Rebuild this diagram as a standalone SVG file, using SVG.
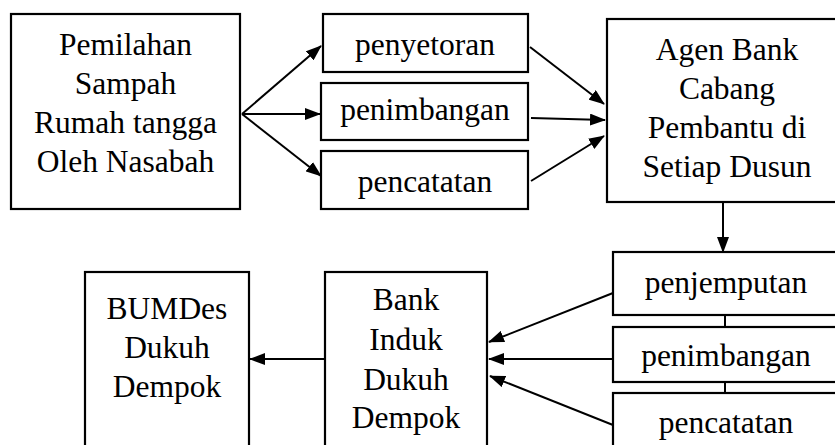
<svg xmlns="http://www.w3.org/2000/svg" width="835" height="445" viewBox="0 0 835 445">
<style>
.box{fill:#fff;stroke:#000;stroke-width:2.2}
.t{font-family:"Liberation Serif","Times New Roman",serif;font-size:31.5px;fill:#000;text-anchor:middle}
.c{stroke:#000;stroke-width:2;fill:none}
.a{marker-end:url(#ah)}
</style>
<defs>
<marker id="ah" markerUnits="userSpaceOnUse" markerWidth="16" markerHeight="12" viewBox="0 0 16 12" refX="15" refY="6" orient="auto">
<path d="M0,0 L16,6 L0,12 z" fill="#000"/>
</marker>
</defs>
<rect width="835" height="445" fill="#fff"/>
<g id="connectors">
<line class="c" x1="725" y1="312" x2="725" y2="396"/>
<line class="c a" x1="242" y1="114" x2="321" y2="46"/>
<line class="c a" x1="242" y1="114" x2="320" y2="114"/>
<line class="c a" x1="242" y1="114" x2="321" y2="176"/>
<line class="c a" x1="530" y1="47" x2="604" y2="104"/>
<line class="c a" x1="531" y1="118" x2="605" y2="120"/>
<line class="c a" x1="531" y1="181" x2="604" y2="136"/>
<line class="c a" x1="723" y1="202" x2="723" y2="252"/>
<line class="c a" x1="613" y1="293" x2="489" y2="342"/>
<line class="c a" x1="613" y1="359" x2="489" y2="359"/>
<line class="c a" x1="613" y1="425" x2="490" y2="376"/>
<line class="c a" x1="325" y1="359" x2="250" y2="359"/>
</g>
<g id="pemilahan">
<rect class="box" x="11" y="14" width="229" height="195"/>
<text class="t" x="125.5" y="55">Pemilahan</text>
<text class="t" x="125.5" y="94">Sampah</text>
<text class="t" x="125.5" y="133">Rumah tangga</text>
<text class="t" x="125.5" y="172">Oleh Nasabah</text>
</g>
<g id="penyetoran">
<rect class="box" x="323" y="14" width="205" height="58"/>
<text class="t" x="425" y="55">penyetoran</text>
</g>
<g id="penimbangan1">
<rect class="box" x="321" y="83" width="207" height="57"/>
<text class="t" x="425" y="120">penimbangan</text>
</g>
<g id="pencatatan1">
<rect class="box" x="321" y="151" width="207" height="58"/>
<text class="t" x="425" y="192">pencatatan</text>
</g>
<g id="agen">
<rect class="box" x="607" y="19" width="240" height="183"/>
<text class="t" x="727" y="60">Agen Bank</text>
<text class="t" x="727" y="99">Cabang</text>
<text class="t" x="727" y="138">Pembantu di</text>
<text class="t" x="727" y="177">Setiap Dusun</text>
</g>
<g id="penjemputan">
<rect class="box" x="613" y="252" width="240" height="63"/>
<text class="t" x="726" y="293">penjemputan</text>
</g>
<g id="penimbangan2">
<rect class="box" x="613" y="327" width="240" height="55"/>
<text class="t" x="726" y="366">penimbangan</text>
</g>
<g id="pencatatan2">
<rect class="box" x="613" y="393" width="240" height="70"/>
<text class="t" x="726" y="433">pencatatan</text>
</g>
<g id="bankinduk">
<rect class="box" x="325" y="272" width="162" height="190"/>
<text class="t" x="406" y="310">Bank</text>
<text class="t" x="406" y="350">Induk</text>
<text class="t" x="406" y="390">Dukuh</text>
<text class="t" x="406" y="428">Dempok</text>
</g>
<g id="bumdes">
<rect class="box" x="85" y="272" width="164" height="190"/>
<text class="t" x="167" y="319">BUMDes</text>
<text class="t" x="167" y="358">Dukuh</text>
<text class="t" x="167" y="397">Dempok</text>
</g>
</svg>
